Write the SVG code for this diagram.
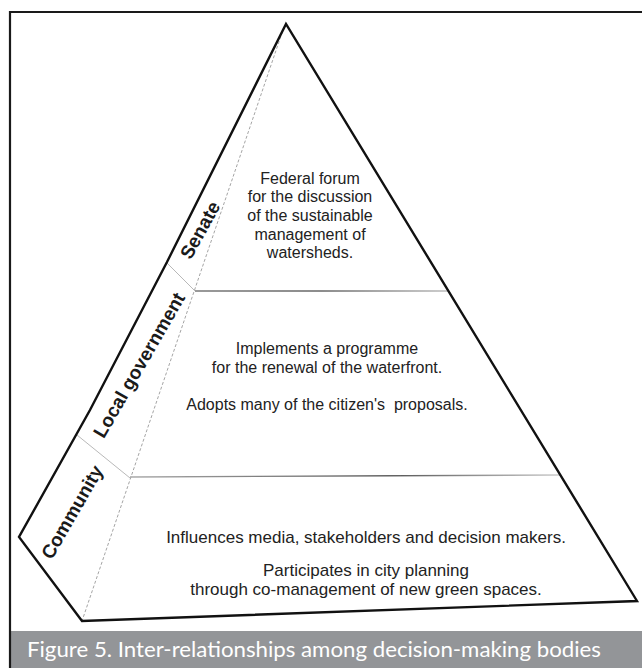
<svg xmlns="http://www.w3.org/2000/svg" width="642" height="668" viewBox="0 0 642 668">
<defs>
<linearGradient id="g1" gradientUnits="userSpaceOnUse" x1="195" y1="0" x2="448" y2="0">
<stop offset="0" stop-color="#777"/><stop offset="0.5" stop-color="#666"/><stop offset="1" stop-color="#bbb"/>
</linearGradient>
<linearGradient id="g2" gradientUnits="userSpaceOnUse" x1="130" y1="0" x2="560" y2="0">
<stop offset="0" stop-color="#aaa"/><stop offset="0.6" stop-color="#555"/><stop offset="1" stop-color="#ccc"/>
</linearGradient>
</defs>
<style>
.frame{stroke:#1a1a1a;stroke-width:2.2;fill:none}
.edge{stroke:#111;stroke-width:2.4;fill:none;stroke-linejoin:miter}
.div{stroke-width:1.3;fill:none}
.thin{stroke:#b0b0b0;stroke-width:0.9;fill:none}
.dash{stroke:#9a9a9a;stroke-width:0.9;fill:none;stroke-dasharray:3 2}
.body{font-family:"Liberation Sans",Arial,sans-serif;font-size:16px;fill:#222;text-anchor:middle}
.big{font-size:17px}
.lab{font-family:"Liberation Sans",Arial,sans-serif;font-size:19px;font-weight:bold;fill:#1a1a1a;text-anchor:middle}
.cap{font-family:Lato,"Open Sans",sans-serif;font-size:21px;fill:#fff}
</style>
<rect x="0" y="0" width="642" height="668" fill="#fff"/>
<g id="frame">
<rect x="11" y="631" width="631" height="37" fill="#939598"/>
<path class="frame" d="M10 668 V12 H642"/>
</g>
<g id="connectors">
<path class="dash" d="M284 27 L82 621"/>
<path class="thin" d="M167 263 L195 291"/>
<path class="thin" d="M77 435 L130 478"/>
<path class="div" stroke="url(#g1)" d="M195 291 L448 291"/>
<path class="div" stroke="url(#g2)" d="M130 477 L560 475"/>
<path class="edge" d="M167 262 L90 410 L19 537 L82 621 L637 601 L286 24 L167 262"/>
</g>
<g id="senate">
<text class="lab" transform="translate(200 230) rotate(-61)" dy=".35em">Senate</text>
<text class="body" x="310" y="183.5">Federal forum</text>
<text class="body" x="310" y="202.2">for the discussion</text>
<text class="body" x="310" y="220.9">of the sustainable</text>
<text class="body" x="310" y="239.6">management of</text>
<text class="body" x="310" y="258.3">watersheds.</text>
</g>
<g id="local-government">
<text class="lab" transform="translate(139 365) rotate(-60)" dy=".35em">Local government</text>
<text class="body" x="327" y="354">Implements a programme</text>
<text class="body" x="327" y="373">for the renewal of the waterfront.</text>
<text class="body" x="327" y="410" xml:space="preserve">Adopts many of the citizen's  proposals.</text>
</g>
<g id="community">
<text class="lab" transform="translate(72 512) rotate(-60)" dy=".35em">Community</text>
<text class="body big" x="366" y="543">Influences media, stakeholders and decision makers.</text>
<text class="body big" x="366" y="576">Participates in city planning</text>
<text class="body big" x="366" y="595">through co-management of new green spaces.</text>
</g>
<g id="caption">
<text class="cap" x="27" y="657" textLength="574" lengthAdjust="spacingAndGlyphs">Figure 5. Inter-relationships among decision-making bodies</text>
</g>
</svg>
